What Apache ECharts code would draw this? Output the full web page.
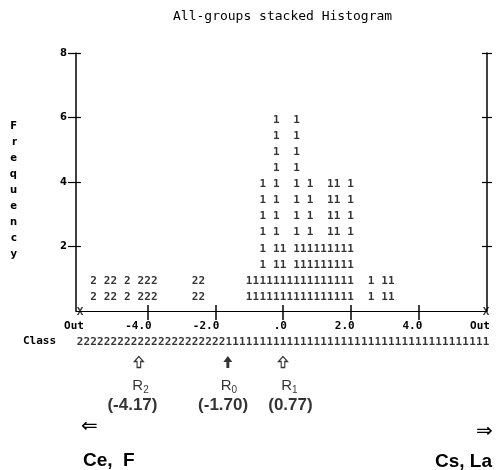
<!DOCTYPE html>
<html><head><meta charset="utf-8">
<script src="https://cdn.jsdelivr.net/npm/echarts@6/dist/echarts.min.js"></script>
<style>html,body{margin:0;padding:0;background:#fff}#c{width:502px;height:470px}</style>
</head><body><div id="c"></div>
<script>
// ---------------- data ----------------
const chartTitle = 'All-groups stacked Histogram';
const yTickValues = [2, 4, 6, 8];
const xTickValues = [-4, -2, 0, 2, 4];
const xLabelValues = [-6, -4, -2, 0, 2, 4, 6];
const xLabelTexts = ['Out', '-4.0', '-2.0', '.0', '2.0', '4.0', 'Out'];

// group 2 cases (symbol "2"), bin centres and counts
const group2Bins = [-5.6, -5.2, -5.0, -4.6, -4.2, -4.0, -3.8, -2.6, -2.4];
const group2Counts = [1, 1, 1, 1, 1, 1, 1, 1, 1];
// group 1 cases (symbol "1")
const group1Bins = [-1.0, -0.8, -0.6, -0.4, -0.2, 0.0, 0.2, 0.4, 0.6, 0.8, 1.0, 1.2, 1.4, 1.6, 1.8, 2.0, 2.6, 3.0, 3.2];
const group1Counts = [1, 1, 4, 1, 6, 2, 1, 6, 2, 4, 2, 2, 4, 4, 2, 4, 1, 1, 1];

// territory map (class row), one symbol per 0.2 bin from -6.0 to 6.0
const classBinStart = -6.0;
const classBinWidth = 0.2;
const classTerritory = '2222222222222222222222' + '111111111111111111111111111111111111111';

// centroids
const centroidSubs = ['2', '0', '1'];
const centroidValues = [-4.17, -1.70, 0.77];
const centroidArrowAt = [-4.26, -1.63, 0.0];
const centroidNameAt = [-4.21, -1.60, 0.19];
const centroidValueAt = [-4.45, -1.77, 0.22];
const centroidArrowKind = ['hollow', 'solid', 'hollow'];

// ---------------- layout ----------------
const xMin = -6.118, xMax = 6.03;
const MONO = 'DejaVu Sans Mono';
const SANS = 'Liberation Sans';

function stackChars(bins, counts) {
  const out = [];
  bins.forEach((b, i) => {
    for (let r = 1; r <= counts[i] * 2; r++) out.push([b, (r - 0.14) / 2]);
  });
  return out;
}
function charSeries(name, data, ch) {
  return {
    name, type: 'scatter', xAxisIndex: 0, yAxisIndex: 0, data,
    symbolSize: 1, itemStyle: { color: 'rgba(0,0,0,0)' }, silent: true,
    label: { show: true, position: 'inside', formatter: ch, color: '#000',
      fontFamily: MONO, fontSize: 11, fontWeight: 'bold' }
  };
}
const classData = classTerritory.split('').map((c, k) => ({ value: [classBinStart + k * classBinWidth, 12], ch: c }));

const hollowArrow = 'path://M5,0L10,5L7,5L7,11L3,11L3,5L0,5Z';
const solidArrow = 'path://M5,0L10,6L6.6,6L6.6,12L3.4,12L3.4,6L0,6Z';
const arrowData = centroidArrowAt.map((x, i) => ({
  value: [x, 32],
  symbol: centroidArrowKind[i] === 'solid' ? solidArrow : hollowArrow,
  symbolSize: centroidArrowKind[i] === 'solid' ? [9, 12] : [9, 11],
  itemStyle: centroidArrowKind[i] === 'solid'
    ? { color: '#000', borderWidth: 0 }
    : { color: '#fff', borderColor: '#000', borderWidth: 1.2 }
}));
const nameData = centroidNameAt.map((x, i) => ({ value: [x, 56], sub: centroidSubs[i] }));
const valueData = centroidValueAt.map((x, i) => ({ value: [x, 75], txt: '(' + centroidValues[i].toFixed(2) + ')' }));

const chart = echarts.init(document.getElementById('c'), null, { renderer: 'canvas' });
chart.setOption({
  animation: false,
  backgroundColor: '#fff',
  title: { text: chartTitle, left: 173, top: 10, padding: 0,
    textStyle: { fontFamily: MONO, fontSize: 13, fontWeight: 'normal', color: '#000' } },
  grid: [
    { left: 76, top: 53, width: 411, height: 258 },
    { left: 76, top: 330, width: 411, height: 140 }
  ],
  xAxis: [
    { gridIndex: 0, type: 'value', min: xMin, max: xMax, position: 'bottom',
      axisLine: { show: true, onZero: false, lineStyle: { color: '#000', width: 1 } },
      axisTick: { show: true, customValues: xTickValues, inside: false, length: 9, lineStyle: { color: '#000', width: 1.5 } },
      axisLabel: { show: true, customValues: xLabelValues, margin: 10, align: 'right', padding: [0, -4, 0, 0],
        formatter: v => { const i = xLabelValues.findIndex(t => Math.abs(t - v) < 1e-6); return i < 0 ? '' : xLabelTexts[i]; },
        fontFamily: MONO, fontSize: 11, fontWeight: 'bold', color: '#000' },
      splitLine: { show: false } },
    { gridIndex: 0, type: 'value', min: xMin, max: xMax, position: 'bottom',
      axisLine: { show: false, onZero: false },
      axisTick: { show: true, customValues: xTickValues, inside: true, length: 6, lineStyle: { color: '#000', width: 1.5 } },
      axisLabel: { show: false }, splitLine: { show: false } },
    { gridIndex: 1, type: 'value', min: xMin, max: xMax, show: false }
  ],
  yAxis: [
    { gridIndex: 0, type: 'value', min: 0, max: 8, position: 'left',
      axisLine: { show: true, onZero: false, lineStyle: { color: '#000', width: 1.5 } },
      axisTick: { show: true, customValues: yTickValues, inside: false, length: 8, lineStyle: { color: '#000', width: 1.2 } },
      axisLabel: { show: true, customValues: yTickValues, margin: 9, fontFamily: 'DejaVu Sans', fontSize: 10, fontWeight: 'bold', color: '#000' },
      splitLine: { show: false },
      name: '\n' + 'Frequency'.split('').join('\n'), nameLocation: 'middle', nameRotate: 0, nameGap: 59,
      nameTextStyle: { fontFamily: 'DejaVu Sans', fontSize: 10, fontWeight: 'bold', color: '#000', lineHeight: 16 } },
    { gridIndex: 0, type: 'value', min: 0, max: 8, position: 'left',
      axisLine: { show: false, onZero: false },
      axisTick: { show: true, customValues: yTickValues, inside: true, length: 5, lineStyle: { color: '#000', width: 1.2 } },
      axisLabel: { show: false }, splitLine: { show: false } },
    { gridIndex: 0, type: 'value', min: 0, max: 8, position: 'right',
      axisLine: { show: true, onZero: false, lineStyle: { color: '#000', width: 1.5 } },
      axisTick: { show: true, customValues: yTickValues, inside: false, length: 5, lineStyle: { color: '#000', width: 1.2 } },
      axisLabel: { show: false }, splitLine: { show: false } },
    { gridIndex: 0, type: 'value', min: 0, max: 8, position: 'right',
      axisLine: { show: false, onZero: false },
      axisTick: { show: true, customValues: yTickValues, inside: true, length: 5, lineStyle: { color: '#000', width: 1.2 } },
      axisLabel: { show: false }, splitLine: { show: false } },
    { gridIndex: 1, type: 'value', min: 0, max: 140, inverse: true, show: false }
  ],
  series: [
    charSeries('Group 2', stackChars(group2Bins, group2Counts), '2'),
    charSeries('Group 1', stackChars(group1Bins, group1Counts), '1'),
    { name: 'axis ends', type: 'scatter', xAxisIndex: 0, yAxisIndex: 0, clip: false,
      data: [[-6, 0], [6, 0]], symbolSize: 1, itemStyle: { color: 'rgba(0,0,0,0)' }, silent: true,
      label: { show: true, position: 'inside', formatter: 'X', color: '#000', fontFamily: MONO, fontSize: 11, fontWeight: 'bold', offset: [0, 1] } },
    { name: 'Class', type: 'scatter', xAxisIndex: 2, yAxisIndex: 4, clip: false, data: classData,
      symbolSize: 1, itemStyle: { color: 'rgba(0,0,0,0)' }, silent: true,
      label: { show: true, position: 'inside', formatter: p => p.data.ch, color: '#000', fontFamily: MONO, fontSize: 11, fontWeight: 'bold' } },
    { name: 'centroid arrows', type: 'scatter', xAxisIndex: 2, yAxisIndex: 4, clip: false, data: arrowData, silent: true },
    { name: 'centroid names', type: 'scatter', xAxisIndex: 2, yAxisIndex: 4, clip: false, data: nameData,
      symbolSize: 1, itemStyle: { color: 'rgba(0,0,0,0)' }, silent: true,
      label: { show: true, position: 'inside', formatter: p => '{r|R}{s|' + p.data.sub + '}',
        rich: { r: { fontFamily: SANS, fontSize: 15, color: '#000' },
                s: { fontFamily: SANS, fontSize: 10, color: '#000', padding: [8, 0, 0, 0] } } } },
    { name: 'centroid values', type: 'scatter', xAxisIndex: 2, yAxisIndex: 4, clip: false, data: valueData,
      symbolSize: 1, itemStyle: { color: 'rgba(0,0,0,0)' }, silent: true,
      label: { show: true, position: 'inside', formatter: p => p.data.txt, color: '#000', fontFamily: SANS, fontSize: 17, fontWeight: 'bold' } }
  ],
  graphic: [
    { type: 'text', left: 23, top: 336, style: { text: 'Class', font: 'bold 11px "DejaVu Sans Mono"', fill: '#000' } },
    { type: 'text', left: 81, top: 417, style: { text: '\u21D0', font: '20px "DejaVu Sans"', fill: '#000' } },
    { type: 'text', left: 476, top: 422, style: { text: '\u21D2', font: '20px "DejaVu Sans"', fill: '#000' } },
    { type: 'text', left: 83, top: 451, style: { text: 'Ce,  F', font: 'bold 19px "Liberation Sans"', fill: '#000' } },
    { type: 'text', left: 435, top: 452, style: { text: 'Cs, La', font: 'bold 19px "Liberation Sans"', fill: '#000' } }
  ]
});
</script>
</body></html>
